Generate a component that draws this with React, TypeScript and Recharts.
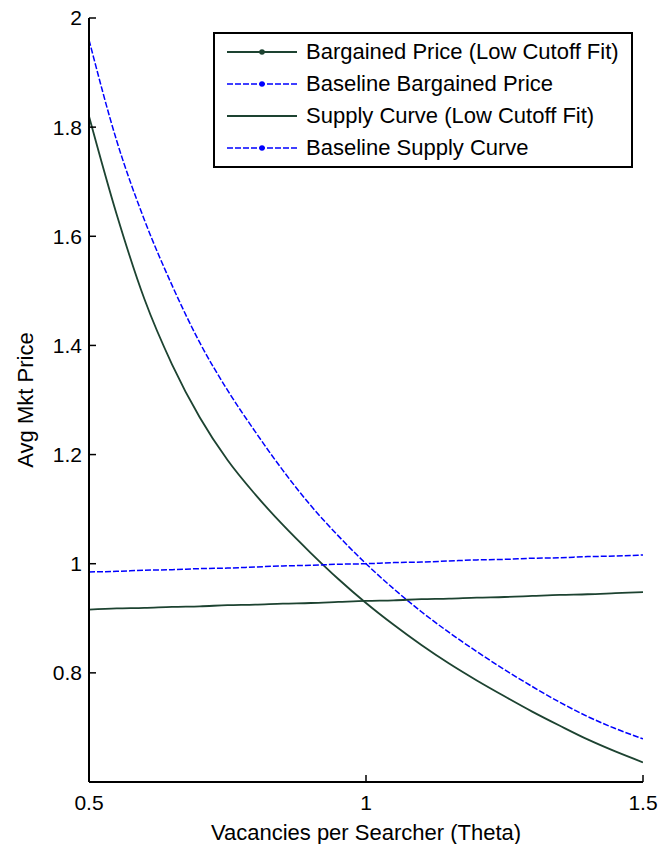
import { LineChart, Line, XAxis, YAxis, Legend } from "recharts";

// theta grid
const THETA = [
  0.5, 0.55, 0.6, 0.65, 0.7, 0.75, 0.8, 0.85, 0.9, 0.95, 1.0, 1.05, 1.1, 1.15,
  1.2, 1.25, 1.3, 1.35, 1.4, 1.45, 1.5,
];

const BARGAINED_LOW = [
  1.82, 1.64, 1.485, 1.365, 1.268, 1.19, 1.127, 1.071, 1.02, 0.972, 0.928,
  0.888, 0.851, 0.817, 0.786, 0.757, 0.729, 0.703, 0.678, 0.656, 0.636,
];

const BARGAINED_BASE = [
  1.96, 1.775, 1.63, 1.51, 1.405, 1.318, 1.242, 1.171, 1.107, 1.051, 1.0,
  0.954, 0.912, 0.874, 0.839, 0.806, 0.775, 0.746, 0.72, 0.698, 0.679,
];

const SUPPLY_LOW = [
  0.916, 0.918, 0.919, 0.921, 0.922, 0.924, 0.925, 0.927, 0.928, 0.93, 0.932,
  0.933, 0.935, 0.936, 0.938, 0.939, 0.941, 0.943, 0.944, 0.946, 0.948,
];

const SUPPLY_BASE = [
  0.985, 0.986, 0.988, 0.989, 0.991, 0.992, 0.994, 0.996, 0.997, 0.999, 1.0,
  1.002, 1.003, 1.005, 1.007, 1.008, 1.01, 1.011, 1.013, 1.014, 1.016,
];

const X_TICKS = [0.5, 1, 1.5];
const Y_TICKS = [0.8, 1, 1.2, 1.4, 1.6, 1.8, 2];

const data = THETA.map((theta, i) => ({
  theta,
  bargLow: BARGAINED_LOW[i],
  bargBase: BARGAINED_BASE[i],
  supplyLow: SUPPLY_LOW[i],
  supplyBase: SUPPLY_BASE[i],
}));

const FONT = '"Liberation Sans", Arial, Helvetica, sans-serif';
const GREEN = "#1d4331";
const BLUE = "#0000ff";

const SERIES = [
  { key: "bargLow", name: "Bargained Price (Low Cutoff Fit)", color: GREEN, dash: undefined, width: 1.8, marker: true },
  { key: "bargBase", name: "Baseline Bargained Price", color: BLUE, dash: "6 2", width: 1.5, marker: true },
  { key: "supplyLow", name: "Supply Curve (Low Cutoff Fit)", color: GREEN, dash: undefined, width: 1.8, marker: false },
  { key: "supplyBase", name: "Baseline Supply Curve", color: BLUE, dash: "6 2", width: 1.5, marker: true },
];

const axisLine = { stroke: "#000", strokeWidth: 2 };
const tickLine = { stroke: "#000", strokeWidth: 1.5 };
const tickStyle = { fill: "#000", fontSize: 21, fontFamily: FONT };
const blank = () => "";

// keep legend rows in plotting order (recharts sorts by name otherwise)
const LegendBox = (props: any) => {
  const keys = (props.payload || []).map((p: any) => p.dataKey);
  const items = SERIES.filter((s) => keys.includes(s.key));
  return (
    <div
      style={{
        border: "2px solid #000",
        background: "#fff",
        boxSizing: "border-box",
        width: 420,
        height: 136,
        padding: "2px 0 0 12px",
        fontFamily: FONT,
        fontSize: 22,
        color: "#000",
      }}
    >
      {items.map((s) => (
        <div key={s.key} style={{ display: "flex", alignItems: "center", height: 32 }}>
          <svg width={70} height={32}>
            <line x1={0} x2={70} y1={16} y2={16} stroke={s.color} strokeWidth={s.width} strokeDasharray={s.dash} />
            {s.marker && <circle cx={35} cy={16} r={2.8} fill={s.color} />}
          </svg>
          <span style={{ marginLeft: 9, whiteSpace: "nowrap" }}>{s.name}</span>
        </div>
      ))}
    </div>
  );
};

export default function App() {
  return (
    <div style={{ position: "absolute", left: 0, top: 0, background: "#fff" }}>
      <LineChart
        width={661}
        height={844}
        data={data}
        margin={{ top: 18, right: 18, left: 19, bottom: 22 }}
      >
        <XAxis
          xAxisId="bottom"
          dataKey="theta"
          type="number"
          domain={[0.5, 1.5]}
          ticks={X_TICKS}
          allowDataOverflow
          height={40}
          axisLine={axisLine}
          tickLine={tickLine}
          tickSize={-7}
          tickMargin={20}
          tick={tickStyle}
          label={{
            value: "Vacancies per Searcher (Theta)",
            position: "bottom",
            offset: 2,
            style: { fill: "#000", fontSize: 22, fontFamily: FONT },
          }}
        />
        <XAxis
          xAxisId="top"
          orientation="top"
          dataKey="theta"
          type="number"
          domain={[0.5, 1.5]}
          ticks={X_TICKS}
          height={0}
          axisLine={axisLine}
          tickLine={tickLine}
          tickSize={-7}
          tickFormatter={blank}
        />
        <YAxis
          yAxisId="left"
          type="number"
          domain={[0.6, 2]}
          ticks={Y_TICKS}
          allowDataOverflow
          width={70}
          axisLine={axisLine}
          tickLine={tickLine}
          tickSize={-7}
          tickMargin={14}
          tick={tickStyle}
          tickFormatter={(v: number) => String(v)}
          label={{
            value: "Avg Mkt Price",
            angle: -90,
            position: "insideLeft",
            offset: 6,
            style: { fill: "#000", fontSize: 22, fontFamily: FONT, textAnchor: "middle" },
          }}
        />
        <YAxis
          yAxisId="right"
          orientation="right"
          type="number"
          domain={[0.6, 2]}
          ticks={Y_TICKS}
          width={0}
          axisLine={axisLine}
          tickLine={tickLine}
          tickSize={-7}
          tickFormatter={blank}
        />
        {SERIES.map((s) => (
          <Line
            key={s.key}
            xAxisId="bottom"
            yAxisId="left"
            dataKey={s.key}
            name={s.name}
            type="monotone"
            stroke={s.color}
            strokeWidth={s.width}
            strokeDasharray={s.dash}
            dot={false}
            activeDot={false}
            isAnimationActive={false}
          />
        ))}
        <Legend
          layout="horizontal"
          align="center"
          verticalAlign="middle"
          content={LegendBox}
          wrapperStyle={{ left: 213, top: 32, width: 420, height: 136 }}
        />
      </LineChart>
    </div>
  );
}
